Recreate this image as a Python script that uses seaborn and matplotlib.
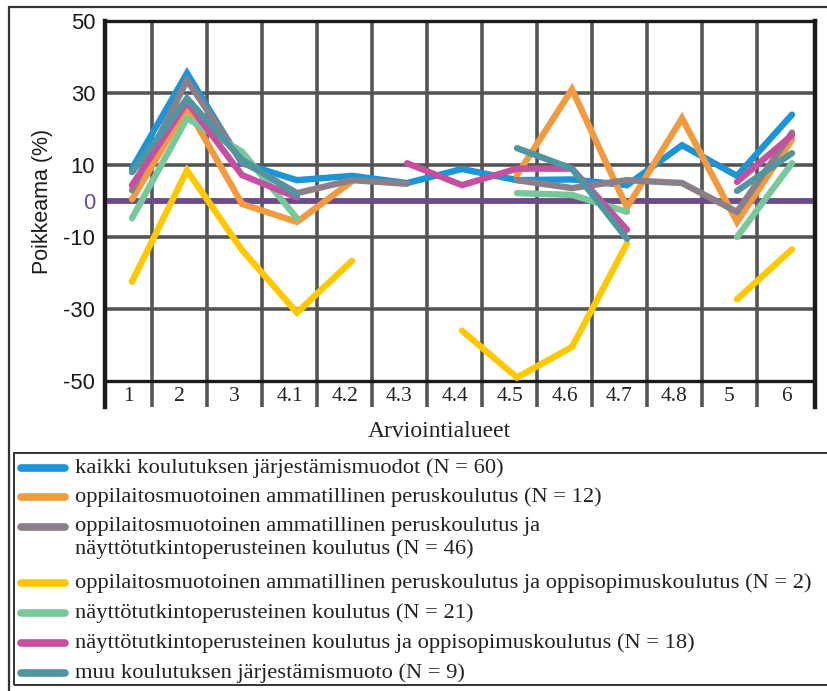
import numpy as np
import pandas as pd
import matplotlib
matplotlib.use("Agg")
import matplotlib.pyplot as plt
from matplotlib.lines import Line2D
from matplotlib.patches import Rectangle
import seaborn as sns

# Arviointialueet and deviations (%) per koulutuksen järjestämismuoto
alueet = ["1", "2", "3", "4.1", "4.2", "4.3", "4.4", "4.5", "4.6", "4.7", "4.8", "5", "6"]
nan = np.nan
kaikki = [9, 35.5, 10.5, 5.8, 7, 5, 8.9, 5.8, 6, 4.4, 15.5, 7, 24]
oppilaitos = [0.5, 26, -0.8, -5.8, 5.5, nan, nan, 7.2, 31, -1.8, 23, -5.8, 17]
oppilaitos_naytto = [3, 33.5, 11, 2.2, 5.8, 4.8, nan, 5.8, 3.6, 5.8, 5, -3, 19]
oppilaitos_oppisopimus = [-22.4, 8.5, -13.6, -31, -16.6, nan, -36, -49, -40.5, -11.8, nan, -27.3, -13.4]
naytto = [-4.8, 23, 13.7, -4.8, nan, nan, nan, 2.2, 1.7, -3, nan, -10, 10.5]
naytto_oppisopimus = [4.4, 27.5, 7.2, 1, nan, 10.5, 4.4, 9, 9, -8, nan, 5.3, 18.3]
muu = [8, 28.5, 11.5, 1.7, nan, nan, nan, 14.7, 9, -10.5, nan, 2.8, 13.3]

sarjat = ["kaikki", "oppilaitos", "oppilaitos_naytto", "oppilaitos_oppisopimus",
          "naytto", "naytto_oppisopimus", "muu"]
arvot = [kaikki, oppilaitos, oppilaitos_naytto, oppilaitos_oppisopimus,
         naytto, naytto_oppisopimus, muu]
selitteet = [
    ["kaikki koulutuksen järjestämismuodot (N = 60)"],
    ["oppilaitosmuotoinen ammatillinen peruskoulutus (N = 12)"],
    ["oppilaitosmuotoinen ammatillinen peruskoulutus ja",
     "näyttötutkintoperusteinen koulutus (N = 46)"],
    ["oppilaitosmuotoinen ammatillinen peruskoulutus ja oppisopimuskoulutus (N = 2)"],
    ["näyttötutkintoperusteinen koulutus (N = 21)"],
    ["näyttötutkintoperusteinen koulutus ja oppisopimuskoulutus (N = 18)"],
    ["muu koulutuksen järjestämismuoto (N = 9)"],
]
varit = ["#1b95d6", "#f29a3f", "#8b8089", "#ffc800", "#77c89a", "#c5509f", "#4f96a1"]
y_ticks = [50, 30, 10, 0, -10, -30, -50]

# long table; each unbroken run of values gets its own unit so gaps stay open
rows = []
for nimi, sarja in zip(sarjat, arvot):
    osa = 0
    prev_nan = True
    for i, v in enumerate(sarja):
        if np.isnan(v):
            prev_nan = True
            continue
        if prev_nan:
            osa += 1
            prev_nan = False
        rows.append({"sarja": nimi, "pos": i, "arvo": v, "osa": osa})
df = pd.DataFrame(rows)

sns.set_style("white")
plt.rcParams["font.family"] = ["Liberation Sans", "DejaVu Sans"]
SERIF = ["Liberation Serif", "DejaVu Serif"]

W, H = 827, 691
fig = plt.figure(figsize=(W / 100, H / 100), dpi=100)


def fx(px):
    return px / W


def fy(py):
    return 1 - py / H


ax_left, ax_right, ax_top, ax_bottom = 105, 815, 21, 407
ax = fig.add_axes([fx(ax_left), fy(ax_bottom), (ax_right - ax_left) / W, (ax_bottom - ax_top) / H])

step = 55.0
x0_px = 132.0
xlim = ((ax_left - x0_px) / step, (ax_right - x0_px) / step)
ylim = (-57.2, 50)
ax.set_xlim(*xlim)
ax.set_ylim(*ylim)

# cell grid
grid_col = "#555555"
rajat = [(152 - x0_px) / step + k for k in range(12)]
for b in rajat:
    ax.axvline(b, color=grid_col, lw=2.6, zorder=1)
for yv in [30, 10, -10, -30]:
    ax.axhline(yv, color=grid_col, lw=2.6, zorder=1)
ax.axhline(-50, color="#1a1a1a", lw=2.4, zorder=2)
ax.axhline(0, color="#6b4a8e", lw=4.2, zorder=2)

sns.lineplot(data=df, x="pos", y="arvo", hue="sarja", units="osa", estimator=None,
             hue_order=sarjat, palette=dict(zip(sarjat, varit)), sort=False,
             legend=False, lw=4.6, ax=ax, zorder=3,
             solid_capstyle="round", solid_joinstyle="miter")

# spines
ax.spines["bottom"].set_visible(False)
for s, w in [("left", 3.2), ("right", 3.2), ("top", 2.4)]:
    ax.spines[s].set_linewidth(w)
    ax.spines[s].set_color("#1a1a1a")

ax.set_xticks([])
ax.set_yticks(y_ticks)
ax.set_yticklabels([str(t) for t in y_ticks], fontsize=15.8, color="#1a1a1a")
ax.get_yticklabels()[3].set_color("#6b4a8e")
ax.tick_params(axis="y", length=0, pad=7)
ax.set_xlabel("")
ax.set_ylabel("Poikkeama (%)", fontsize=15.5, color="#1a1a1a")
ax.yaxis.set_label_coords((53 - ax_left) / (ax_right - ax_left),
                          (ax_bottom - 201) / (ax_bottom - ax_top))

# category labels in the strip below -50
reunat = [xlim[0]] + rajat + [xlim[1]]
for i, nimi in enumerate(alueet):
    cx = (reunat[i] + reunat[i + 1]) / 2
    ax.text(cx, -54.3, nimi, ha="center", va="center", fontsize=15.5,
            family=SERIF, color="#222222")

fig.text(fx(439), fy(432), "Arviointialueet", ha="center", va="center", fontsize=17,
         family=SERIF, color="#222222")

# outer frame and legend box
fig.add_artist(Line2D([fx(9), fx(9)], [fy(7), fy(H + 5)], color="#333333", lw=1.6,
                      transform=fig.transFigure))
fig.add_artist(Line2D([fx(9), fx(W + 5)], [fy(7), fy(7)], color="#333333", lw=1.6,
                      transform=fig.transFigure))
fig.add_artist(Rectangle((fx(14), fy(685)), fx(W + 10) - fx(14), fy(453) - fy(685),
                         fill=False, edgecolor="#333333", lw=1.4,
                         transform=fig.transFigure))

rivi_y = [468, 497, 527, 583, 613, 643, 673]
for vari, tekstit, y in zip(varit, selitteet, rivi_y):
    fig.add_artist(Line2D([fx(21), fx(65)], [fy(y), fy(y)], color=vari, lw=5.5,
                          solid_capstyle="round", transform=fig.transFigure))
    for j, t in enumerate(tekstit):
        fig.text(fx(75), fy(y + 22 * j), t, ha="left", va="center", fontsize=16.2,
                 family=SERIF, color="#222222")

fig.savefig("out.png", dpi=100)
